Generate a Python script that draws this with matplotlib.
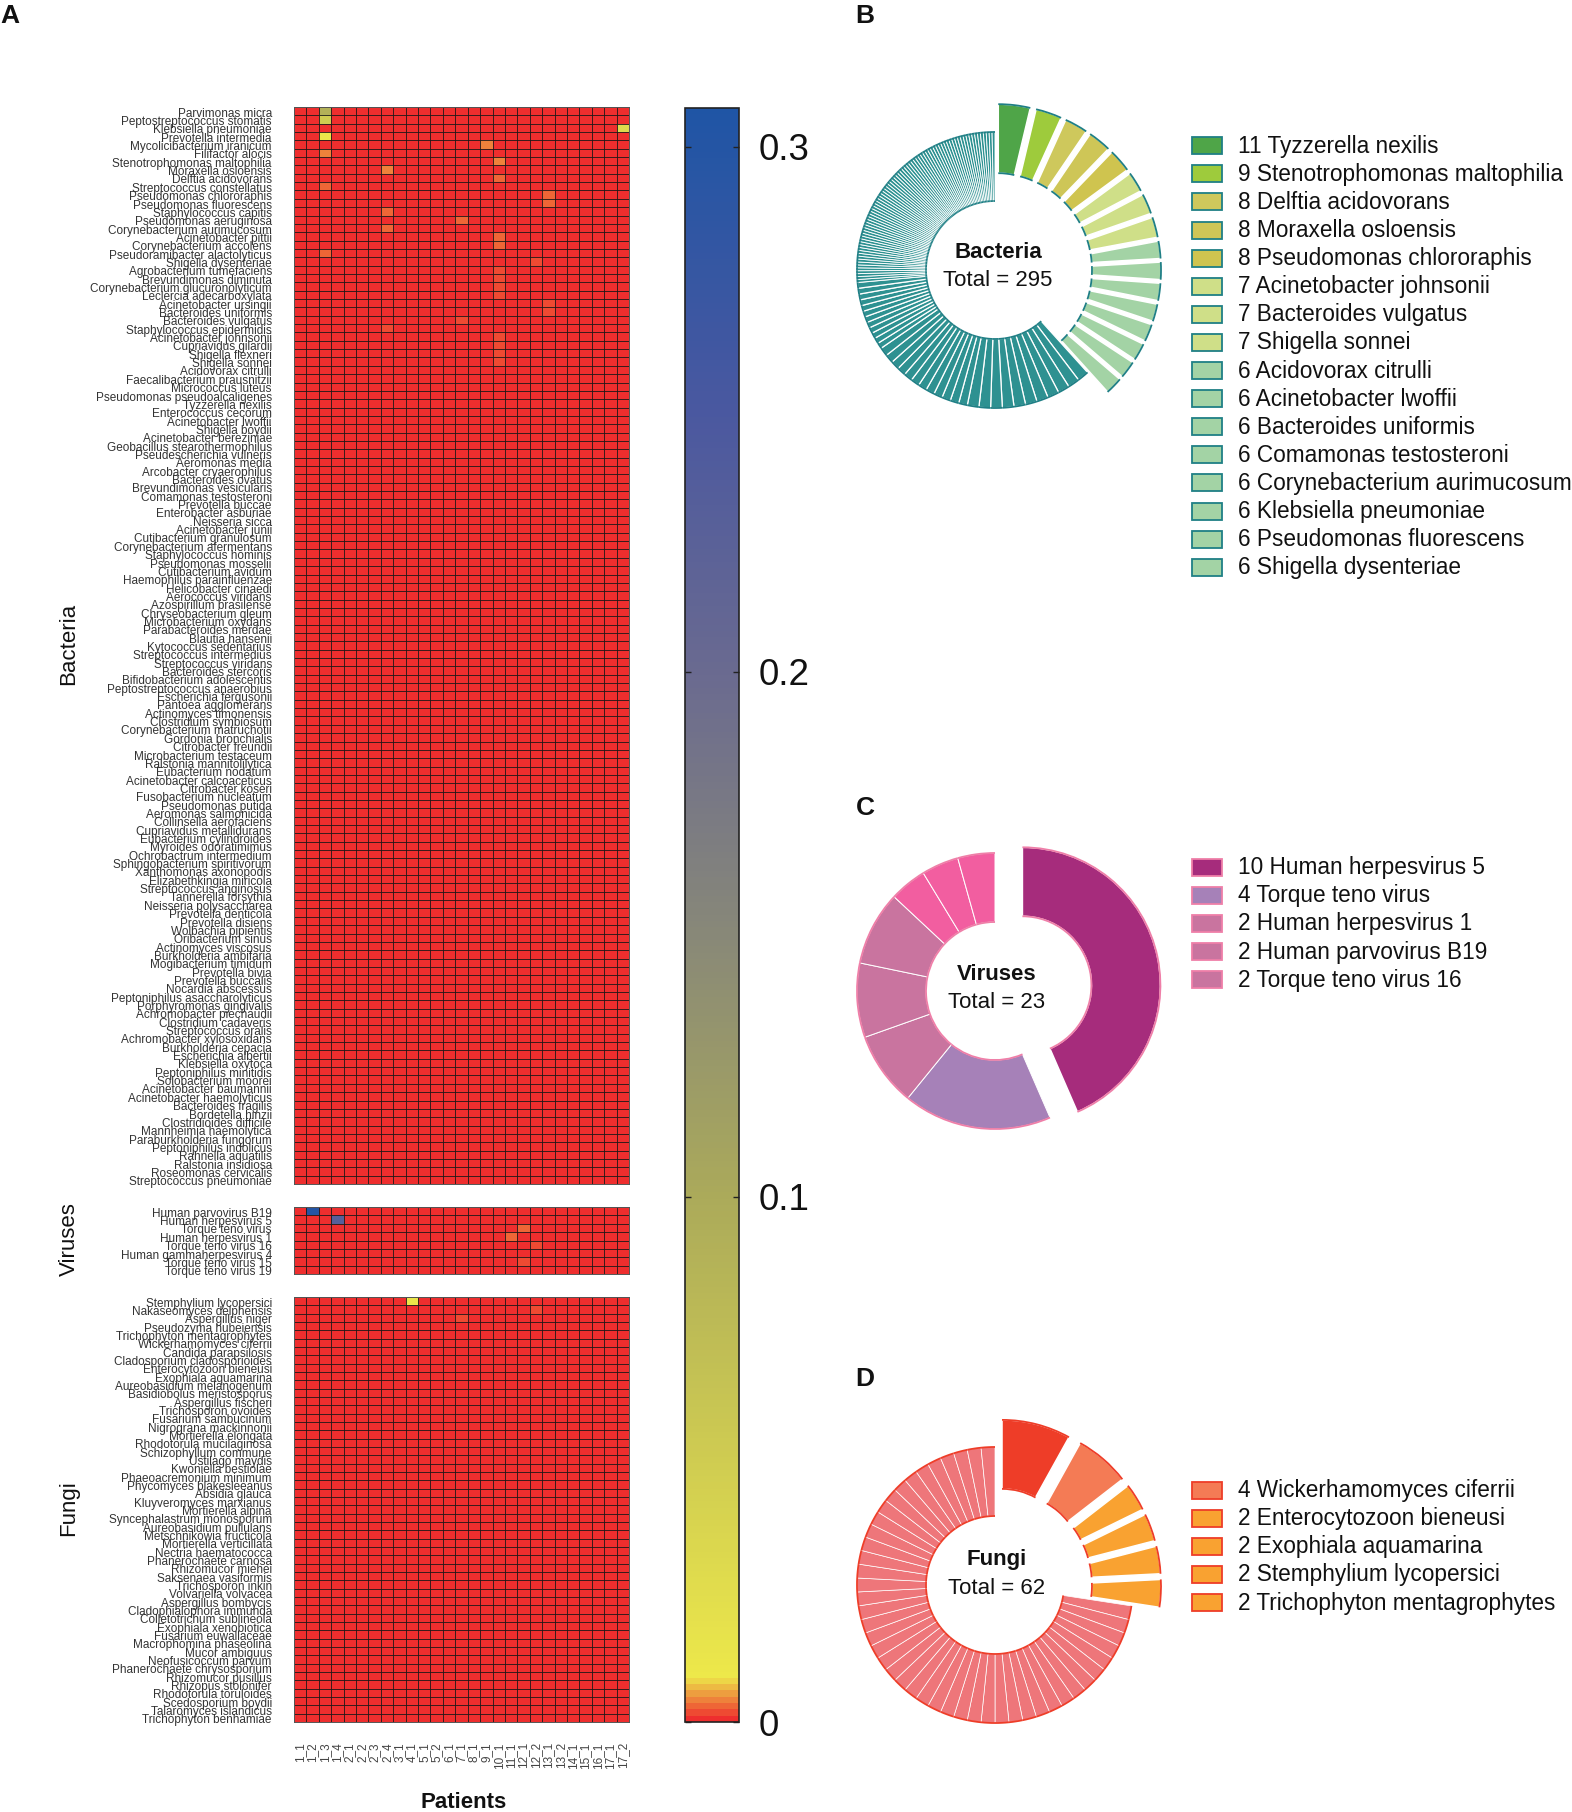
import numpy as np
import matplotlib
matplotlib.use("Agg")
import matplotlib.pyplot as plt
from matplotlib.colors import LinearSegmentedColormap, Normalize
from matplotlib.patches import Arc, Rectangle
from matplotlib.transforms import ScaledTranslation

plt.rcParams['font.family'] = ['Liberation Sans', 'DejaVu Sans']

W, H = 1572, 1812

patients = ["1_1", "1_2", "1_3", "1_4", "2_1", "2_2", "2_3", "2_4", "3_1", "4_1", "5_1", "5_2", "6_1", "7_1",
            "8_1", "9_1", "10_1", "11_1", "12_1", "12_2", "13_1", "13_2", "14_1", "15_1", "16_1", "17_1", "17_2"]

bacteria = ["Parvimonas micra", "Peptostreptococcus stomatis", "Klebsiella pneumoniae", "Prevotella intermedia",
            "Mycolicibacterium iranicum", "Filifactor alocis", "Stenotrophomonas maltophilia", "Moraxella osloensis",
            "Delftia acidovorans", "Streptococcus constellatus", "Pseudomonas chlororaphis", "Pseudomonas fluorescens",
            "Staphylococcus capitis", "Pseudomonas aeruginosa", "Corynebacterium aurimucosum", "Acinetobacter pittii",
            "Corynebacterium accolens", "Pseudoramibacter alactolyticus", "Shigella dysenteriae",
            "Agrobacterium tumefaciens", "Brevundimonas diminuta", "Corynebacterium glucuronolyticum",
            "Leclercia adecarboxylata", "Acinetobacter ursingii", "Bacteroides uniformis", "Bacteroides vulgatus",
            "Staphylococcus epidermidis", "Acinetobacter johnsonii", "Cupriavidus gilardii", "Shigella flexneri",
            "Shigella sonnei", "Acidovorax citrulli", "Faecalibacterium prausnitzii", "Micrococcus luteus",
            "Pseudomonas pseudoalcaligenes", "Tyzzerella nexilis", "Enterococcus cecorum", "Acinetobacter lwoffii",
            "Shigella boydii", "Acinetobacter bereziniae", "Geobacillus stearothermophilus",
            "Pseudescherichia vulneris", "Aeromonas media", "Arcobacter cryaerophilus", "Bacteroides ovatus",
            "Brevundimonas vesicularis", "Comamonas testosteroni", "Prevotella buccae", "Enterobacter asburiae",
            "Neisseria sicca", "Acinetobacter junii", "Cutibacterium granulosum", "Corynebacterium afermentans",
            "Staphylococcus hominis", "Pseudomonas mosselii", "Cutibacterium avidum", "Haemophilus parainfluenzae",
            "Helicobacter cinaedi", "Aerococcus viridans", "Azospirillum brasilense", "Chryseobacterium gleum",
            "Microbacterium oxydans", "Parabacteroides merdae", "Blautia hansenii", "Kytococcus sedentarius",
            "Streptococcus intermedius", "Streptococcus viridans", "Bacteroides stercoris",
            "Bifidobacterium adolescentis", "Peptostreptococcus anaerobius", "Escherichia fergusonii",
            "Pantoea agglomerans", "Actinomyces timonensis", "Clostridium symbiosum", "Corynebacterium matruchotii",
            "Gordonia bronchialis", "Citrobacter freundii", "Microbacterium testaceum", "Ralstonia mannitolilytica",
            "Eubacterium nodatum", "Acinetobacter calcoaceticus", "Citrobacter koseri", "Fusobacterium nucleatum",
            "Pseudomonas putida", "Aeromonas salmonicida", "Collinsella aerofaciens", "Cupriavidus metallidurans",
            "Eubacterium cylindroides", "Myroides odoratimimus", "Ochrobactrum intermedium",
            "Sphingobacterium spiritivorum", "Xanthomonas axonopodis", "Elizabethkingia miricola",
            "Streptococcus anginosus", "Tannerella forsythia", "Neisseria polysaccharea", "Prevotella denticola",
            "Prevotella disiens", "Wolbachia pipientis", "Oribacterium sinus", "Actinomyces viscosus",
            "Burkholderia ambifaria", "Mogibacterium timidum", "Prevotella bivia", "Prevotella buccalis",
            "Nocardia abscessus", "Peptoniphilus asaccharolyticus", "Porphyromonas gingivalis",
            "Achromobacter piechaudii", "Clostridium cadaveris", "Streptococcus oralis", "Achromobacter xylosoxidans",
            "Burkholderia cepacia", "Escherichia albertii", "Klebsiella oxytoca", "Peptoniphilus minitidis",
            "Solobacterium moorei", "Acinetobacter baumannii", "Acinetobacter haemolyticus", "Bacteroides fragilis",
            "Bordetella hinzii", "Clostridioides difficile", "Mannheimia haemolytica", "Paraburkholderia fungorum",
            "Peptoniphilus indolicus", "Rahnella aquatilis", "Ralstonia insidiosa", "Roseomonas cervicalis",
            "Streptococcus pneumoniae"]

viruses = ["Human parvovirus B19", "Human herpesvirus 5", "Torque teno virus", "Human herpesvirus 1",
           "Torque teno virus 16", "Human gammaherpesvirus 4", "Torque teno virus 15", "Torque teno virus 19"]

fungi = ["Stemphylium lycopersici", "Nakaseomyces delphensis", "Aspergillus niger", "Pseudozyma hubeiensis",
         "Trichophyton mentagrophytes", "Wickerhamomyces ciferrii", "Candida parapsilosis",
         "Cladosporium cladosporioides", "Enterocytozoon bieneusi", "Exophiala aquamarina",
         "Aureobasidium melanogenum", "Basidiobolus meristosporus", "Aspergillus fischeri", "Trichosporon ovoides",
         "Fusarium sambucinum", "Nigrograna mackinnonii", "Mortierella elongata", "Rhodotorula mucilaginosa",
         "Schizophyllum commune", "Ustilago maydis", "Kwoniella bestiolae", "Phaeoacremonium minimum",
         "Phycomyces blakesleeanus", "Absidia glauca", "Kluyveromyces marxianus", "Mortierella alpina",
         "Syncephalastrum monosporum", "Aureobasidium pullulans", "Metschnikowia fructicola",
         "Mortierella verticillata", "Nectria haematococca", "Phanerochaete carnosa", "Rhizomucor miehei",
         "Saksenaea vasiformis", "Trichosporon inkin", "Volvariella volvacea", "Aspergillus bombycis",
         "Cladophialophora immunda", "Colletotrichum sublineola", "Exophiala xenobiotica", "Fusarium euwallaceae",
         "Macrophomina phaseolina", "Mucor ambiguus", "Neofusicoccum parvum", "Phanerochaete chrysosporium",
         "Rhizomucor pusillus", "Rhizopus stolonifer", "Rhodotorula toruloides", "Scedosporium boydii",
         "Talaromyces islandicus", "Trichophyton benhamiae"]

# nonzero cells: (row, patient column, abundance), everything else is about 0
bacteria_hits = [(0, 2, 0.09), (1, 2, 0.05), (2, 26, 0.03), (3, 2, 0.012), (4, 15, 0.0048), (5, 2, 0.0042),
                 (6, 16, 0.0042), (7, 7, 0.0042), (8, 16, 0.0035), (9, 2, 0.003), (10, 20, 0.0026), (11, 20, 0.0026),
                 (12, 7, 0.0026), (13, 13, 0.0026), (14, 7, 0.0026), (15, 16, 0.0026), (16, 16, 0.0026),
                 (17, 2, 0.0026), (18, 19, 0.0018), (19, 16, 0.0023), (20, 16, 0.0023), (21, 16, 0.0018),
                 (22, 16, 0.0023), (23, 20, 0.0014), (24, 20, 0.0018), (25, 13, 0.0018), (26, 7, 0.0016),
                 (27, 16, 0.0016), (28, 16, 0.0016), (29, 16, 0.0016), (30, 16, 0.0016), (32, 7, 0.0009),
                 (33, 7, 0.0009), (39, 16, 0.0011), (40, 16, 0.0009)]
virus_hits = [(0, 1, 0.30), (1, 3, 0.23), (2, 18, 0.0026), (3, 17, 0.0026), (4, 19, 0.0016), (5, 16, 0.0012),
              (6, 18, 0.0016)]
fungi_hits = [(0, 9, 0.012), (1, 19, 0.0016), (2, 13, 0.0016), (3, 16, 0.001), (4, 16, 0.001), (6, 0, 0.0006)]

# donut counts
bact_counts = [11, 9, 8, 8, 8, 7, 7, 7, 6, 6, 6, 6, 6, 6, 6, 6] + [4] * 11 + [3] * 12 + [2] * 12 + [1] * 78
bact_legend = ["11 Tyzzerella nexilis", "9 Stenotrophomonas maltophilia", "8 Delftia acidovorans",
               "8 Moraxella osloensis", "8 Pseudomonas chlororaphis", "7 Acinetobacter johnsonii",
               "7 Bacteroides vulgatus", "7 Shigella sonnei", "6 Acidovorax citrulli", "6 Acinetobacter lwoffii",
               "6 Bacteroides uniformis", "6 Comamonas testosteroni", "6 Corynebacterium aurimucosum",
               "6 Klebsiella pneumoniae", "6 Pseudomonas fluorescens", "6 Shigella dysenteriae"]
virus_counts = [10, 4, 2, 2, 2, 1, 1, 1]
virus_legend = ["10 Human herpesvirus 5", "4 Torque teno virus", "2 Human herpesvirus 1",
                "2 Human parvovirus B19", "2 Torque teno virus 16"]
fungi_counts = [5, 4, 2, 2, 2, 2] + [1] * 45
fungi_legend = ["4 Wickerhamomyces ciferrii", "2 Enterocytozoon bieneusi", "2 Exophiala aquamarina",
                "2 Stemphylium lycopersici", "2 Trichophyton mentagrophytes"]

# colours
bact_colors = ["#4FA548", "#9ECB3C", "#CEC85C", "#CEC657", "#CFC44F", "#CFDF88", "#CFDF88", "#CFDF88"] \
    + ["#A3D3A5"] * 8 + ["#2E9191"] * 113
virus_colors = ["#A62C7C", "#A681B8", "#C9749F", "#C9749F", "#C9749F", "#F25EA0", "#F25EA0", "#F25EA0"]
fungi_colors = ["#EE3D28", "#F47B55", "#F9A231", "#F9A231", "#F9A231", "#F9A231"] + ["#EE767A"] * 45
virus_legend_colors = ["#A62C7C", "#A681B8", "#C9749F", "#C9749F", "#C9749F"]
fungi_legend_colors = ["#F47B55", "#F9A231", "#F9A231", "#F9A231", "#F9A231"]

vmax = 0.3075
cmap = LinearSegmentedColormap.from_list(
    "abund", [(0, "#EE2E2E"), (0.008 / vmax, "#EDE84A"), (0.1 / vmax, "#ABAA5A"), (0.15 / vmax, "#888878"),
              (0.2 / vmax, "#6A6A90"), (0.25 / vmax, "#4A58A0"), (1, "#1F55A5")], N=256)
norm = Normalize(0, vmax)

fig = plt.figure(figsize=(W / 100, H / 100), dpi=100, facecolor="white")
nudge = ScaledTranslation(0, -1 / 100, fig.dpi_scale_trans)


def px_axes(x0, y0, x1, y1):
    return fig.add_axes([x0 / W, 1 - y1 / H, (x1 - x0) / W, (y1 - y0) / H])


def heat(names, hits, y0, y1, last=False):
    ax = px_axes(294, y0, 629, y1)
    m = np.zeros((len(names), len(patients)))
    for r, c, v in hits:
        m[r, c] = v
    mesh = ax.pcolormesh(m, cmap=cmap, norm=norm, edgecolors="#111111", linewidth=0.5, antialiased=True)
    ax.set_ylim(len(names), 0)
    ax.set_yticks(np.arange(len(names)) + 0.5)
    ax.set_yticklabels(names, fontsize=8.5, color="#333333")
    ax.tick_params(axis="y", length=0, pad=16)
    for lab in ax.get_yticklabels():
        lab.set_transform(lab.get_transform() + nudge)
    if last:
        ax.set_xticks(np.arange(len(patients)) + 0.5)
        ax.set_xticklabels(patients, rotation=90, fontsize=8.5, color="#444444")
        ax.tick_params(axis="x", length=0, pad=14.5)
    else:
        ax.set_xticks([])
    for s in ax.spines.values():
        s.set_color("#555555")
        s.set_linewidth(0.7)
    return mesh


mesh = heat(bacteria, bacteria_hits, 107, 1184)
heat(viruses, virus_hits, 1207, 1274)
heat(fungi, fungi_hits, 1297, 1722, last=True)

cax = px_axes(685, 107.5, 739, 1722)
cb = fig.colorbar(mesh, cax=cax)
cb.set_ticks([0, 0.1, 0.2, 0.3])
cb.set_ticklabels(["0", "0.1", "0.2", "0.3"])
cax.tick_params(axis="y", direction="in", left=True, right=True, length=4, width=1, pad=14, labelsize=26.5,
                labelcolor="#111111", color="#222222")
cb.outline.set_edgecolor("#222222")
cb.outline.set_linewidth(1.2)

# overlay in pixel units for the donuts, legends and free text
ov = fig.add_axes([0, 0, 1, 1], facecolor="none")


def donut(counts, colors, explode, cy, edge, white_lw):
    wedges, _ = ov.pie(counts, colors=colors, explode=explode, startangle=90, counterclock=False,
                       radius=138, center=(995, H - cy),
                       wedgeprops=dict(width=69, edgecolor="white", linewidth=white_lw))
    for w, n, e in zip(wedges, counts, explode):
        if n == 1 and len(counts) > 100:
            w.set_linewidth(0.65)
        elif e > 0:
            w.set_linewidth(1.1)
        for r in (w.r, w.r - w.width):
            ov.add_patch(Arc(w.center, 2 * r, 2 * r, theta1=w.theta1, theta2=w.theta2, color=edge, lw=1.3, zorder=3))


def legend(labels, colors, y0, edge):
    for i, (lab, col) in enumerate(zip(labels, colors)):
        y = H - (y0 + i * 28.1)
        ov.add_patch(Rectangle((1192, y - 8.5), 30, 17, facecolor=col, edgecolor=edge, lw=1.3))
        ov.text(1238, y - 0.5, lab, fontsize=16.3, va="center", ha="left", color="#111111")


donut(bact_counts, bact_colors, [28] * 16 + [0] * 113, 270, "#1F7F85", 0.9)
donut(virus_counts, virus_colors, [28] + [0] * 7, 991, "#EF7FA8", 0.7)
donut(fungi_counts, fungi_colors, [28] * 6 + [0] * 45, 1585, "#EE3D28", 0.5)

legend(bact_legend, bact_colors[:16], 145.7, "#1F7F85")
legend(virus_legend, virus_legend_colors, 867.2, "#EF7FA8")
legend(fungi_legend, fungi_legend_colors, 1490.2, "#EE3D28")

for name, total, x, y1, y2 in [("Bacteria", "Total = 295", 998, 253, 281),
                               ("Viruses", "Total = 23", 997, 974, 1002),
                               ("Fungi", "Total = 62", 997, 1560, 1589)]:
    ov.text(x, H - y1, name, fontsize=16, fontweight="bold", ha="center", va="center", color="#111111")
    ov.text(x, H - y2, total, fontsize=16, ha="center", va="center", color="#111111")

for name, y in [("Bacteria", 644), ("Viruses", 1239), ("Fungi", 1508)]:
    ov.text(69, H - y, name, fontsize=16, rotation=90, ha="center", va="center", color="#111111")

ov.text(464, H - 1802, "Patients", fontsize=16, fontweight="bold", ha="center", va="center", color="#111111")

for letter, x, y in [("A", 10, 16), ("B", 865, 16), ("C", 865, 808), ("D", 865, 1379)]:
    ov.text(x, H - y, letter, fontsize=19, fontweight="bold", ha="center", va="center", color="#111111")

ov.set_xlim(0, W)
ov.set_ylim(0, H)
ov.axis("off")

fig.savefig("out.png", dpi=100)
